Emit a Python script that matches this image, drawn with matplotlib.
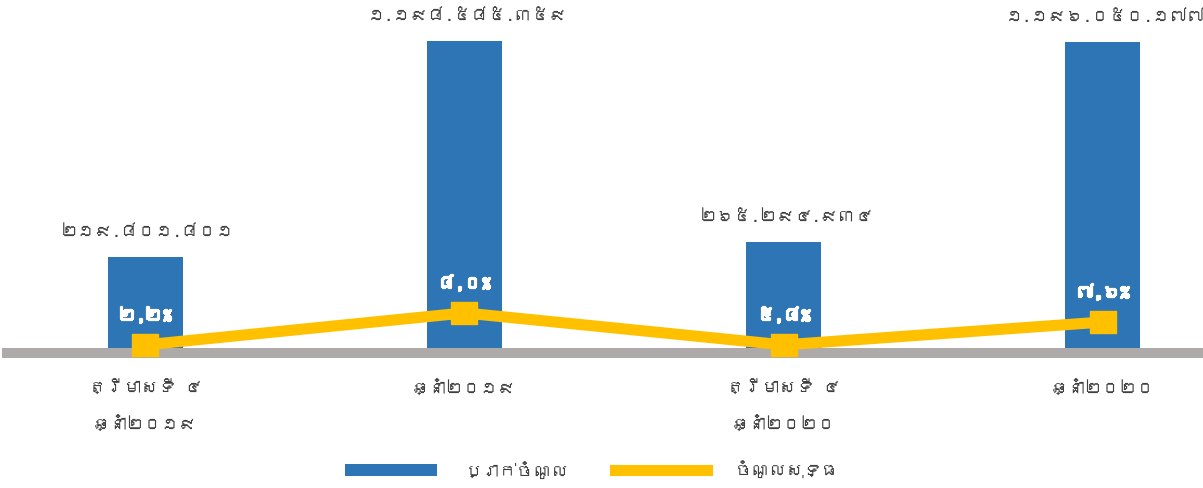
import matplotlib
matplotlib.use("Agg")
import matplotlib.pyplot as plt
import matplotlib.patheffects as pe
from matplotlib import font_manager
from matplotlib.ft2font import FT2Font
from matplotlib.lines import Line2D
from matplotlib.patches import Patch

# ----------------------------------------------------------------------
# Data (heights, labels as printed on it)
# ----------------------------------------------------------------------
categories = ["ត្រីមាសទី ៤\nឆ្នាំ២០១៩", "ឆ្នាំ២០១៩", "ត្រីមាសទី ៤\nឆ្នាំ២០២០", "ឆ្នាំ២០២០"]
revenue = [369, 1198.6, 426, 1195]          # bar heights, millions
revenue_labels = ["២១៩.៨០១.៨០១", "១.១៩៨.៥៨៥.៣៥៩", "២៦៥.២៩៤.៩៣៤", "១.១៩៦.០៥០.១៧៧"]
net_income = [31, 154, 31, 119]             # line heights, millions
net_income_labels = ["២,២%", "៨,០%", "៥,៨%", "៧,៦%"]
series_names = ["ប្រាក់ចំណូល", "ចំណូលសុទ្ធ"]

BLUE = "#2E75B6"
GOLD = "#FFC000"
GREY = "#AEAAAA"
TEXT = "#404040"


def _khmer_family():
    """First installed family that has Khmer glyphs, if any."""
    for entry in font_manager.fontManager.ttflist:
        try:
            if 0x1780 in FT2Font(entry.fname).get_charmap():
                return entry.name
        except Exception:
            continue
    return None


khmer = _khmer_family()
plt.rcParams["font.family"] = [khmer, "DejaVu Sans"] if khmer else ["DejaVu Sans"]

fig = plt.figure(figsize=(12.03, 4.89), dpi=100)
ax = fig.add_axes([7 / 1203, 135 / 489, 1196 / 1203, 334 / 489])

x = list(range(len(categories)))
ax.bar(x, revenue, width=0.235, color=BLUE, zorder=2)

# Thick grey category axis drawn over the bar feet.
ax.axhline(0, color=GREY, linewidth=7.2, zorder=3, clip_on=False)

rect = [(-1.18, -1), (1.18, -1), (1.18, 1), (-1.18, 1), (-1.18, -1)]
ax.plot(x, net_income, color=GOLD, linewidth=8, marker=rect, markersize=19,
        solid_capstyle="butt", zorder=4, clip_on=False)

for xi, v, lab in zip(x, revenue, revenue_labels):
    ax.annotate(lab, (xi, v), xytext=(2, 19), textcoords="offset points",
                ha="center", va="center", fontsize=12.5, color=TEXT)

bold = [pe.withSimplePatchShadow(offset=(1, -1), alpha=0.35),
        pe.withStroke(linewidth=1.6, foreground="white")]
for xi, v, lab in zip(x, net_income, net_income_labels):
    ax.annotate(lab, (xi, v), xytext=(0, 22), textcoords="offset points",
                ha="center", va="center", fontsize=12.5, fontweight="bold",
                color="white", path_effects=bold, zorder=5)

ax.set_xlim(-0.433, 3.314)
ax.set_ylim(0, 1283)
ax.set_xticks(x)
ax.set_xticklabels(categories, fontsize=12.5, color=TEXT, linespacing=2.35, va="top")
ax.tick_params(axis="x", length=0, pad=18)
ax.set_yticks([])
for side in ax.spines.values():
    side.set_visible(False)

handles = [Patch(facecolor=BLUE), Line2D([], [], color=GOLD, linewidth=8)]
fig.legend(handles, series_names, loc="center",
           bbox_to_anchor=(592 / 1203, 1 - 470 / 489), ncol=2, frameon=False,
           fontsize=12.5, handlelength=5.3, handletextpad=1.6,
           columnspacing=2.6, labelcolor=TEXT)

fig.savefig("out.png", dpi=100)
